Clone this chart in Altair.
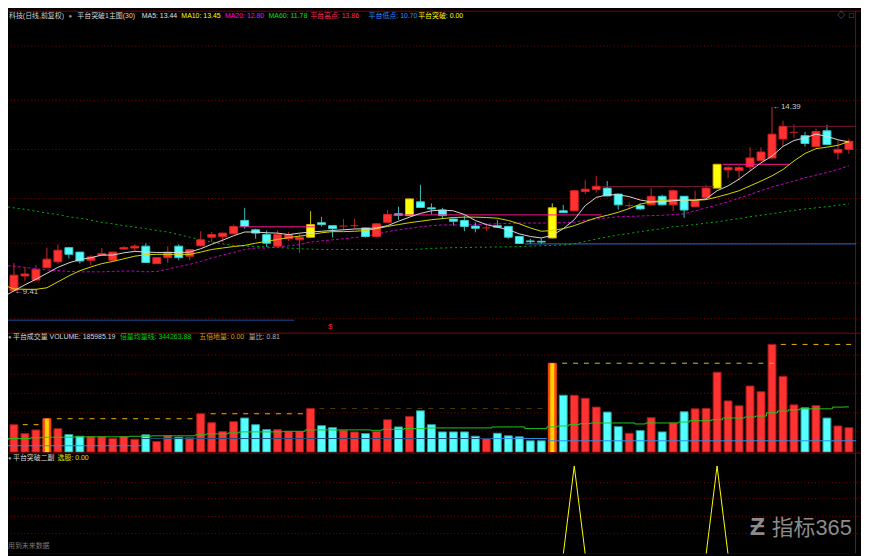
import altair as alt
import pandas as pd

# ---------------- data (daily bars, index 0..77) ----------------
opens = [9.57, 9.44, 9.84, 9.73, 10.06, 10.22, 10.60, 10.48, 10.26, 10.39,
         10.26, 10.56, 10.59, 10.64, 10.17, 10.33, 10.64, 10.37, 10.65, 10.88,
         10.90, 10.97, 11.33, 11.08, 10.95, 10.64, 10.84, 10.81, 10.88, 11.27,
         11.19, 11.18, 11.19, 11.13, 10.90, 11.28, 11.51, 11.46, 11.83, 11.67,
         11.61, 11.37, 11.33, 11.18, 11.13, 11.19, 11.17, 10.90, 10.78, 10.77,
         10.86, 11.59, 11.59, 12.11, 12.16, 12.20, 12.04, 11.73, 11.73, 11.75,
         11.98, 11.75, 11.98, 11.70, 11.95, 12.20, 12.69, 12.68, 12.77, 12.94,
         13.01, 13.52, 13.70, 13.61, 13.32, 13.74, 13.15, 13.24]
highs = [9.78, 10.19, 10.07, 10.13, 10.60, 10.69, 10.62, 10.49, 10.40, 10.59,
         10.49, 10.64, 10.69, 10.72, 10.34, 10.64, 10.69, 10.56, 11.04, 11.02,
         11.00, 11.22, 11.67, 11.11, 11.06, 11.06, 11.02, 10.97, 11.58, 11.43,
         11.20, 11.37, 11.37, 11.14, 11.25, 11.61, 11.70, 11.92, 12.29, 11.79,
         11.67, 11.38, 11.46, 11.28, 11.26, 11.35, 11.18, 10.91, 10.84, 10.85,
         11.79, 11.75, 12.14, 12.41, 12.53, 12.39, 12.05, 11.82, 11.79, 12.20,
         12.02, 12.16, 11.99, 12.13, 12.29, 12.85, 12.79, 12.79, 13.30, 13.30,
         14.39, 14.01, 13.92, 13.71, 13.80, 13.90, 13.48, 13.53]
lows = [9.49, 9.41, 9.71, 9.71, 10.05, 10.17, 10.31, 10.17, 10.13, 10.38,
        10.25, 10.55, 10.51, 10.19, 10.16, 10.19, 10.26, 10.26, 10.64, 10.75,
        10.75, 10.96, 11.11, 10.84, 10.62, 10.63, 10.78, 10.46, 10.87, 11.17,
        10.87, 11.06, 11.11, 10.87, 10.89, 11.27, 11.35, 11.45, 11.67, 11.49,
        11.37, 11.19, 11.04, 11.01, 11.04, 11.14, 10.84, 10.70, 10.70, 10.70,
        10.85, 11.53, 11.58, 12.04, 12.08, 11.98, 11.62, 11.64, 11.61, 11.74,
        11.74, 11.58, 11.40, 11.69, 11.94, 12.19, 12.46, 12.41, 12.66, 12.93,
        12.97, 13.32, 13.55, 13.32, 13.31, 13.36, 12.97, 13.12]
closes = [9.68, 9.86, 9.89, 10.01, 10.29, 10.53, 10.42, 10.24, 10.35, 10.44,
          10.48, 10.60, 10.64, 10.20, 10.33, 10.48, 10.33, 10.55, 10.81, 10.95,
          10.99, 11.17, 11.17, 10.99, 10.72, 10.95, 10.95, 10.88, 11.22, 11.22,
          11.11, 11.18, 11.19, 10.90, 11.24, 11.49, 11.47, 11.91, 11.68, 11.64,
          11.46, 11.31, 11.17, 11.12, 11.13, 11.15, 10.88, 10.71, 10.76, 10.75,
          11.67, 11.54, 12.13, 12.17, 12.25, 11.99, 11.75, 11.73, 11.64, 11.98,
          11.75, 12.13, 11.61, 11.86, 12.20, 12.84, 12.75, 12.75, 13.01, 13.17,
          13.65, 13.86, 13.70, 13.40, 13.72, 13.37, 13.24, 13.46]
kinds = ["up", "up", "up", "up", "up", "up", "down", "down", "up", "up",
         "up", "up", "up", "down", "up", "up", "down", "up", "up", "up",
         "up", "up", "down", "down", "down", "up", "up", "up", "brk", "down",
         "down", "flat", "flat", "down", "up", "up", "down", "brk", "down", "down",
         "down", "down", "down", "down", "flat", "down", "down", "down", "down", "down",
         "brk", "down", "up", "up", "up", "down", "down", "flat", "down", "up",
         "down", "up", "down", "up", "up", "brk", "up", "up", "up", "up",
         "up", "up", "flat", "down", "up", "down", "up", "up"]

ma5 = [9.27, 9.44, 9.60, 9.75, 9.91, 10.07, 10.19, 10.28, 10.33, 10.40,
       10.40, 10.46, 10.50, 10.48, 10.47, 10.47, 10.47, 10.48, 10.57, 10.69,
       10.80, 10.92, 11.02, 11.02, 11.00, 10.99, 10.95, 10.99, 11.02, 11.04,
       11.06, 11.08, 11.10, 11.11, 11.13, 11.19, 11.31, 11.42, 11.52, 11.59,
       11.61, 11.59, 11.49, 11.33, 11.22, 11.15, 11.08, 10.97, 10.90, 10.86,
       10.93, 11.11, 11.35, 11.73, 11.95, 12.02, 12.02, 11.97, 11.88, 11.83,
       11.83, 11.86, 11.88, 11.88, 11.91, 12.13, 12.26, 12.44, 12.66, 12.88,
       13.06, 13.32, 13.48, 13.55, 13.65, 13.59, 13.50, 13.44]
ma10 = [9.60, 9.49, 9.48, 9.48, 9.52, 9.68, 9.84, 9.98, 10.08, 10.17,
        10.23, 10.30, 10.37, 10.41, 10.42, 10.42, 10.42, 10.42, 10.48, 10.55,
        10.59, 10.63, 10.66, 10.72, 10.77, 10.82, 10.87, 10.91, 10.95, 11.00,
        11.03, 11.03, 11.04, 11.06, 11.11, 11.17, 11.22, 11.27, 11.31, 11.35,
        11.38, 11.41, 11.42, 11.42, 11.41, 11.39, 11.33, 11.24, 11.13, 11.04,
        11.06, 11.11, 11.19, 11.30, 11.40, 11.47, 11.55, 11.65, 11.77, 11.83,
        11.87, 11.88, 11.88, 11.87, 11.89, 11.96, 12.04, 12.13, 12.26, 12.39,
        12.53, 12.70, 12.93, 13.13, 13.26, 13.30, 13.35, 13.45]
ma20 = [10.12, 10.10, 10.07, 10.03, 10.00, 9.98, 9.96, 9.95, 9.95, 9.95,
        9.96, 9.97, 9.97, 9.95, 9.96, 10.02, 10.09, 10.15, 10.23, 10.32,
        10.40, 10.47, 10.55, 10.59, 10.59, 10.62, 10.65, 10.68, 10.75, 10.78,
        10.81, 10.84, 10.87, 10.91, 10.96, 11.03, 11.08, 11.12, 11.16, 11.19,
        11.21, 11.21, 11.21, 11.22, 11.23, 11.24, 11.25, 11.26, 11.26, 11.26,
        11.27, 11.27, 11.28, 11.34, 11.37, 11.40, 11.43, 11.44, 11.45, 11.46,
        11.47, 11.49, 11.51, 11.59, 11.67, 11.75, 11.83, 11.93, 12.03, 12.13,
        12.23, 12.31, 12.39, 12.48, 12.55, 12.62, 12.70, 12.80]
ma60 = [11.71, 11.67, 11.63, 11.58, 11.53, 11.49, 11.43, 11.39, 11.34, 11.28,
        11.24, 11.19, 11.15, 11.11, 11.06, 11.02, 10.95, 10.88, 10.81, 10.75,
        10.70, 10.66, 10.64, 10.63, 10.62, 10.60, 10.59, 10.57, 10.56, 10.55,
        10.55, 10.55, 10.55, 10.55, 10.55, 10.55, 10.55, 10.55, 10.56, 10.58,
        10.59, 10.60, 10.60, 10.61, 10.61, 10.62, 10.62, 10.63, 10.64, 10.65,
        10.66, 10.67, 10.70, 10.77, 10.83, 10.89, 10.94, 10.98, 11.03, 11.07,
        11.11, 11.16, 11.19, 11.22, 11.26, 11.29, 11.34, 11.38, 11.43, 11.47,
        11.51, 11.56, 11.60, 11.64, 11.67, 11.70, 11.74, 11.78]

volume = [133600, 209100, 141200, 169100, 254400, 178900, 133600, 120800, 116300, 116300,
          103400, 118500, 98200, 131400, 80800, 123800, 113300, 111000, 292200, 224200,
          156300, 231800, 259700, 209100, 171400, 171400, 156300, 156300, 332200, 201600,
          186500, 166100, 154000, 141200, 158600, 246900, 191800, 271800, 314800, 209100,
          154000, 154000, 154000, 120800, 103400, 143500, 123800, 116300, 86100, 86100,
          677200, 433400, 433400, 410700, 342800, 305000, 194000, 143500, 163800, 262000,
          154000, 222000, 307300, 329900, 332200, 609300, 390300, 352600, 503600, 460600,
          820700, 576800, 360100, 337500, 354900, 259700, 199300, 185985.19]
vol_kinds = ["up", "up", "up", "up", "brk", "up", "down", "down", "up", "up",
             "up", "up", "up", "down", "up", "up", "down", "up", "up", "up",
             "up", "up", "down", "down", "down", "up", "up", "up", "up", "down",
             "down", "up", "up", "down", "up", "up", "down", "up", "down", "down",
             "down", "down", "down", "down", "up", "down", "down", "down", "down", "down",
             "brk", "down", "up", "up", "up", "down", "down", "up", "down", "up",
             "down", "up", "down", "up", "up", "up", "up", "up", "up", "up",
             "up", "up", "up", "down", "up", "down", "up", "up"]
vol_avg = [95900, 103400, 103400, 108700, 113300, 113300, 113300, 116300, 116300, 116300,
           116300, 116300, 120800, 120800, 123800, 123800, 123800, 123800, 131400, 138900,
           138900, 146500, 154000, 154000, 154000, 154000, 158600, 158600, 169100, 169100,
           169100, 169100, 169100, 169100, 166100, 173700, 173700, 178900, 178900, 184200,
           184200, 184200, 184200, 184200, 184200, 191800, 191800, 191800, 178900, 178900,
           191800, 199300, 209100, 216700, 222000, 222000, 222000, 222000, 214400, 222000,
           222000, 222000, 229500, 239300, 239300, 246900, 259700, 259700, 267300, 274800,
           299700, 312600, 322400, 329900, 329900, 329900, 342800, 344263.88]
signal = [0] * 52 + [1] + [0] * 12 + [1] + [0] * 12

grid_prices = [16.02, 14.56, 13.24, 11.92, 10.72, 9.65, 8.69]
grid_volume = [154000, 299700, 448500, 594200, 739900]
grid_signal = [0.235, 0.43, 0.63, 0.81]

plat_high_start = [21.5, 35.5, 65.5]
plat_high_end = [28.4, 54.5, 71.6]
plat_high_value = [11.16, 11.48, 12.84]
plat_cur_start = [54.5, 71.3]
plat_cur_end = [64.7, 77.65]
plat_cur_value = [12.24, 13.86]
plat_low_start = [0.0, 47.5]
plat_low_end = [26.5, 77.65]
plat_low_value = [8.65, 10.70]

vref_start = [1.8, 4.9, 18.9, 28.8, 50.9, 70.8]
vref_end = [3.4, 17.8, 27.5, 49.3, 70.3, 77.3]
vref_bar = [1, 4, 18, 28, 50, 70]
vref_active = [True, True, True, False, True, True]

vlow_start = [0.0, 12.6, 44.5, 49.6]
vlow_end = [12.55, 44.5, 49.5, 77.65]
vlow_value = [48300, 103400, 103400, 86100]
vlow_active = [True, False, True, True]

# ---------------- styling ----------------
FONT = "Liberation Sans, Noto Sans CJK SC, sans-serif"
FS = 7
W = 861
H_MAIN, H_VOL, H_BOT = 325, 121, 102
HALF = 4 / 11.09
BODY_FILL = {"up": "#ff3232", "down": "#54ffff", "flat": "#c82828", "brk": "#ffff00"}
BODY_STROKE = {"up": "#d42020", "down": "#3cc8c8", "flat": "#c82828", "brk": "#d8b400"}
WICK = {"up": "#c82828", "down": "#3cbcbc", "flat": "#b02020", "brk": "#c8c800"}
VOL_FILL = {"up": "#ff3232", "down": "#54ffff", "brk": "#ff4a14"}
VOL_STROKE = {"up": "#a01818", "down": "#2a9a9a", "brk": "#ff4a14"}

n = len(closes)
df = pd.DataFrame({
    "i": list(range(n)), "open": opens, "high": highs, "low": lows, "close": closes,
    "kind": kinds, "ma5": ma5, "ma10": ma10, "ma20": ma20, "ma60": ma60,
    "vol": volume, "vkind": vol_kinds, "vavg": vol_avg, "sig": signal,
})
df["xl"] = df["i"] - HALF
df["xr"] = df["i"] + HALF
df["xl2"] = df["i"] - HALF / 2
df["xr2"] = df["i"] + HALF / 2
df["v0"] = 0.0
df["bfill"] = df["kind"].map(BODY_FILL)
df["bstroke"] = df["kind"].map(BODY_STROKE)
df["wick"] = df["kind"].map(WICK)
df["vfill"] = df["vkind"].map(VOL_FILL)
df["vstroke"] = df["vkind"].map(VOL_STROKE)

xs = alt.Scale(domain=[0.459, 78.1], nice=False, zero=False)
ys_main = alt.Scale(domain=[8.318, 16.973], nice=False, zero=False)
ys_vol = alt.Scale(domain=[-2300, 911300], nice=False, zero=False)
ys_bot = alt.Scale(domain=[0.011, 1.153], nice=False, zero=False)

one = pd.DataFrame({"z": [0]})


def X(f):
    return alt.X(f, type="quantitative", scale=xs, axis=None)


def label(txt, x, y, color, size=FS, align="left", baseline="middle", **kw):
    return alt.Chart(pd.DataFrame({"t": [txt]})).mark_text(
        align=align, baseline=baseline, clip=True, color=color, fontSize=size,
        font=FONT, **kw
    ).encode(x=alt.value(x), y=alt.value(y), text="t:N")


def hline(y, color):
    return alt.Chart(one).mark_rule(color=color, strokeWidth=1, clip=True).encode(
        x=alt.value(0), x2=alt.value(W), y=alt.value(y))


def vline(x, h, color):
    return alt.Chart(one).mark_rule(color=color, strokeWidth=1, clip=True).encode(
        x=alt.value(x), y=alt.value(0), y2=alt.value(h))


def segs(starts, ends, values, ys, color, dash=None, width=1):
    d = pd.DataFrame({"s": starts, "e": ends, "v": values})
    kw = {"strokeDash": dash} if dash else {}
    return alt.Chart(d).mark_rule(color=color, strokeWidth=width, clip=True, **kw).encode(
        x=X("s"), x2="e:Q", y=alt.Y("v:Q", scale=ys, axis=None))


def grid(values, ys):
    d = pd.DataFrame({"g": values})
    return alt.Chart(d).mark_rule(color="#8a0000", strokeWidth=1, strokeDash=[1, 2.5], clip=True).encode(
        y=alt.Y("g:Q", scale=ys, axis=None))


base = alt.Chart(df)

# ---------------- main price panel ----------------
wicks = base.mark_rule(strokeWidth=1, clip=True).encode(
    x=X("i"), y=alt.Y("low:Q", scale=ys_main, axis=None), y2="high:Q",
    color=alt.Color("wick:N", scale=None))
bodies = base.transform_filter("datum.kind != 'flat'").mark_bar(strokeWidth=1, clip=True).encode(
    x=X("xl"), x2="xr:Q", y=alt.Y("open:Q", scale=ys_main, axis=None), y2="close:Q",
    fill=alt.Fill("bfill:N", scale=None), stroke=alt.Stroke("bstroke:N", scale=None))
flats = base.transform_filter("datum.kind == 'flat'").mark_rule(strokeWidth=1, clip=True, color="#c82828").encode(
    x=X("xl"), x2="xr:Q", y=alt.Y("open:Q", scale=ys_main, axis=None))


def ma_line(field, color, dash=None):
    kw = {"strokeDash": dash} if dash else {}
    return base.mark_line(color=color, strokeWidth=1, clip=True, **kw).encode(
        x=X("i"), y=alt.Y(f"{field}:Q", scale=ys_main, axis=None))


ann = pd.DataFrame({"i": [1, 70], "p": [lows[1], highs[70]],
                    "t": ["\u2190" + f"{lows[1]:.2f}", "\u2190" + f"{highs[70]:.2f}"]})
annot = alt.Chart(ann).mark_text(align="left", baseline="middle", dx=1, color="#c8c8c8",
                                 fontSize=8, font=FONT, clip=True).encode(
    x=X("i"), y=alt.Y("p:Q", scale=ys_main, axis=None), text="t:N")

main = alt.layer(
    grid(grid_prices, ys_main),
    hline(0.5, "#b00000"),
    vline(855.5, H_MAIN, "#8a0000"),
    segs(plat_low_start[:1], plat_low_end[:1], plat_low_value[:1], ys_main, "#17509a"),
    segs(plat_low_start[1:], plat_low_end[1:], plat_low_value[1:], ys_main, "#1f6fc8"),
    ma_line("ma60", "#00b400", [2, 3]),
    ma_line("ma20", "#c000c0", [3, 2]),
    wicks, bodies, flats,
    segs(plat_cur_start, plat_cur_end, plat_cur_value, ys_main, "#7a1838"),
    segs(plat_high_start, plat_high_end, plat_high_value, ys_main, "#ff1493"),
    ma_line("ma10", "#d8d800"),
    ma_line("ma5", "#d8d8d8"),
    annot,
    label("$", 323, 319, "#ff2020", size=8),
    label("科技(日线,前复权)", 1, 5.5, "#d0d0d0"),
    label("●", 61, 5.5, "#9a9a9a", size=6),
    label("平台突破1主图(30)", 70, 5.5, "#d8d8d8"),
    label(f"MA5: {ma5[-1]:.2f}", 135, 5.5, "#e0e0e0"),
    label(f"MA10: {ma10[-1]:.2f}", 175, 5.5, "#ffff00"),
    label(f"MA20: {ma20[-1]:.2f}", 219, 5.5, "#ff00ff"),
    label(f"MA60: {ma60[-1]:.2f}", 263, 5.5, "#00e000"),
    label("平台高点: 13.86", 305, 5.5, "#ff2a60"),
    label("平台低点: 10.70", 364, 5.5, "#2090ff"),
    label("平台突破: 0.00", 414, 5.5, "#ffff00"),
    label("◇", 837, 5.5, "#8a8a8a", size=8),
    label("□", 849, 5.5, "#8a8a8a", size=8),
).properties(width=W, height=H_MAIN)

# ---------------- volume panel ----------------
vbars = base.mark_bar(strokeWidth=1, clip=True).encode(
    x=X("xl"), x2="xr:Q", y=alt.Y("vol:Q", scale=ys_vol, axis=None), y2="v0:Q",
    fill=alt.Fill("vfill:N", scale=None), stroke=alt.Stroke("vstroke:N", scale=None))
vinner = base.transform_filter("datum.vkind == 'brk'").mark_bar(clip=True, color="#ffd200").encode(
    x=X("xl2"), x2="xr2:Q", y=alt.Y("vol:Q", scale=ys_vol, axis=None), y2="v0:Q")
vavg_line = base.mark_line(color="#1ec81e", strokeWidth=1, interpolate="step", clip=True).encode(
    x=X("i"), y=alt.Y("vavg:Q", scale=ys_vol, axis=None))

ref_vals = [volume[b] for b in vref_bar]
act = [k for k, a in enumerate(vref_active) if a]
ina = [k for k, a in enumerate(vref_active) if not a]
lact = [k for k, a in enumerate(vlow_active) if a]
lina = [k for k, a in enumerate(vlow_active) if not a]

vol = alt.layer(
    grid(grid_volume, ys_vol),
    vline(855.5, H_VOL, "#8a0000"),
    vbars, vinner,
    segs([vref_start[k] for k in act], [vref_end[k] for k in act], [ref_vals[k] for k in act],
         ys_vol, "#f0b400", [5, 6]),
    segs([vref_start[k] for k in ina], [vref_end[k] for k in ina], [ref_vals[k] for k in ina],
         ys_vol, "#4a3c00", [5, 6]),
    segs([vlow_start[k] for k in lina], [vlow_end[k] for k in lina], [vlow_value[k] for k in lina],
         ys_vol, "#1c4a78"),
    segs([vlow_start[k] for k in lact], [vlow_end[k] for k in lact], [vlow_value[k] for k in lact],
         ys_vol, "#2b8fe8"),
    vavg_line,
    hline(0.5, "#c00000"),
    label("●", 0, 5, "#9a9a9a", size=6),
    label("平台成交量", 5, 5, "#d8d8d8"),
    label(f"VOLUME: {volume[-1]:.2f}", 42, 5, "#d8d8d8"),
    label(f"倍量均量线: {vol_avg[-1]:.2f}", 113, 5, "#00d000"),
    label("五倍地量: 0.00", 193, 5, "#d0a000"),
    label("量比: 0.81", 243, 5, "#b0b0b0"),
).properties(width=W, height=H_VOL)

# ---------------- bottom signal panel ----------------
sig_line = base.mark_line(color="#ffff00", strokeWidth=1, clip=True).encode(
    x=X("i"), y=alt.Y("sig:Q", scale=ys_bot, axis=None))

bot = alt.layer(
    grid(grid_signal, ys_bot),
    vline(855.5, H_BOT, "#b00000"),
    sig_line,
    hline(0.5, "#c00000"),
    label("●", 0, 6, "#9a9a9a", size=6),
    label("平台突破二副", 5, 6, "#d8d8d8"),
    label("选股: 0.00", 50, 6, "#e0e000"),
    label("用到未来数据", 0, 94, "#7a7a7a"),
    label("Ƶ", 749, 83, "#8c8c8c", size=25, baseline="alphabetic", fontWeight="bold"),
    label("指标365", 771, 83, "#8c8c8c", size=22, baseline="alphabetic"),
).properties(width=W, height=H_BOT)

chart = alt.vconcat(main, vol, bot, spacing=0).properties(
    background="#000000", padding=0
).configure_view(stroke=None)

chart.save("out.html", embed_options={"renderer": "svg", "actions": False})
